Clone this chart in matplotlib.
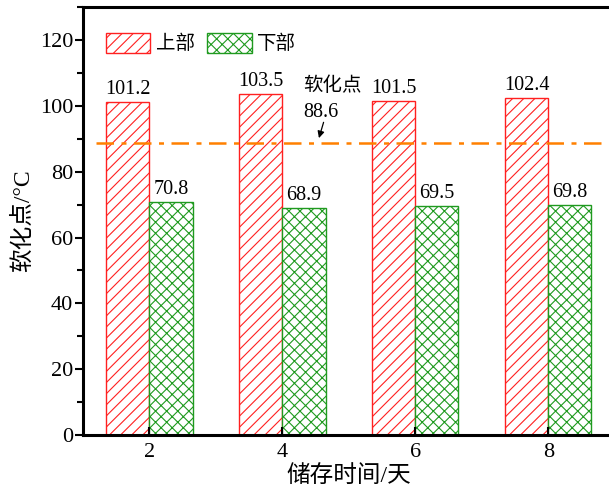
import matplotlib
matplotlib.use("Agg")
import matplotlib.pyplot as plt
from matplotlib.ticker import MultipleLocator

plt.rcParams['font.family'] = ['Liberation Serif', 'Noto Sans CJK SC']
plt.rcParams['hatch.linewidth'] = 0.8

days = [2, 4, 6, 8]
upper = [101.2, 103.5, 101.5, 102.4]
lower = [70.8, 68.9, 69.5, 69.8]
softening_point = 88.6
series_names = ['上部', '下部']

red = '#ff2020'
green = '#1f9a1f'
width = 0.65

fig = plt.figure(figsize=(6.09, 4.97), dpi=100)
ax = fig.add_axes([0.1363, 0.1247, 0.873, 0.861])

b1 = ax.bar([d - width / 2 for d in days], upper, width, facecolor='white',
            edgecolor=red, hatch='///', linewidth=1.0, label=series_names[0])
b2 = ax.bar([d + width / 2 for d in days], lower, width, facecolor='white',
            edgecolor=green, hatch='xxx', linewidth=1.0, label=series_names[1])

for d, v in zip(days, upper):
    ax.text(d - width / 2, v + 1.0, f'{v}', ha='center', va='bottom', fontsize=14.5)
for d, v in zip(days, lower):
    ax.text(d + width / 2, v + 1.0, f'{v}', ha='center', va='bottom', fontsize=14.5)

# softening point reference line
ax.plot([1.2, 8.85], [softening_point, softening_point], color='#ff8000',
        linestyle=(0, (7, 3, 2, 3)), linewidth=1.8)
ax.text(4.75, 106.2, '软化点', ha='center', va='center', fontsize=14)
ax.text(4.58, 98.0, f'{softening_point}', ha='center', va='center', fontsize=14.5)
ax.annotate('', xy=(4.55, 90.2), xytext=(4.62, 95.0),
            arrowprops=dict(arrowstyle='-|>', color='black', lw=0.9,
                            mutation_scale=10, shrinkA=0, shrinkB=0))

ax.set_xlim(1, 9)
ax.set_ylim(0, 130)
ax.set_xticks(days)
ax.yaxis.set_major_locator(MultipleLocator(20))
ax.yaxis.set_minor_locator(MultipleLocator(10))
ax.set_yticks([0, 20, 40, 60, 80, 100, 120])
ax.tick_params(axis='y', which='major', direction='out', length=6, width=1.5,
               labelsize=16, pad=1)
ax.tick_params(axis='y', which='minor', direction='out', length=4, width=1.5)
ax.tick_params(axis='x', which='major', direction='in', length=6, width=1.5,
               labelsize=16, pad=6)

for side in ['left', 'bottom', 'top', 'right']:
    ax.spines[side].set_linewidth(2.2)

ax.set_xlabel('储存时间/天', fontsize=17, labelpad=2)
ax.set_ylabel('软化点/°C', fontsize=17, labelpad=4)

ax.legend(loc='upper left', bbox_to_anchor=(0.017, 0.972), ncol=2, frameon=False,
          fontsize=14, handlelength=2.3, handleheight=1.2, columnspacing=0.6,
          handletextpad=0.3, borderaxespad=0.3)

fig.savefig('out.png', dpi=100)
